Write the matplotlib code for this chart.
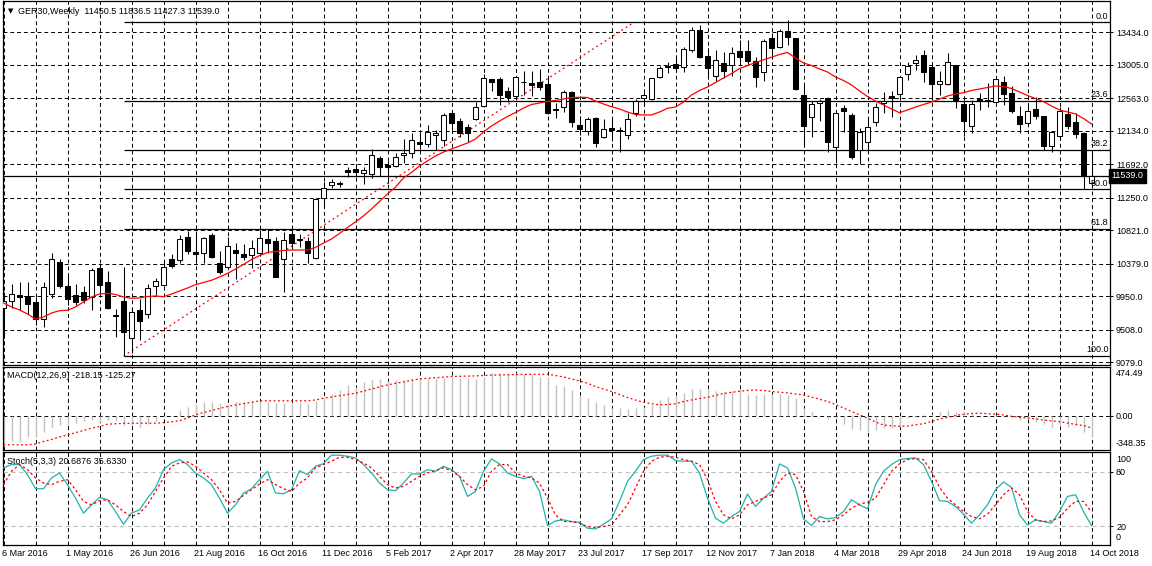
#!/usr/bin/env python3
"""GER30 weekly candlestick chart with MA, Fibonacci retracement, MACD and Stochastic panels."""

import matplotlib
matplotlib.use("Agg")
import matplotlib.pyplot as plt
import matplotlib.transforms as mtransforms
import numpy as np

W, H, DPI = 1152, 566, 100

# ---------------------------------------------------------------------------
# Data (weekly bars, 6 Mar 2016 .. 14 Oct 2018)
# ---------------------------------------------------------------------------
opens = [
    9795, 9888, 9963, 9950, 9871, 9646, 9977, 10403, 10086, 9968,
    10007, 9945, 10324, 10139, 9703, 9888, 9404, 9769, 9712, 10082,
    10103, 10439, 10426, 10729, 10531, 10518, 10759, 10386, 10333, 10561,
    10504, 10495, 10518, 10706, 10676, 10439, 10768, 10706, 10680, 10451,
    11243, 11415, 11449, 11617, 11630, 11573, 11560, 11771, 11683, 11666,
    11808, 11837, 11990, 11957, 12075, 12019, 12369, 12263, 12180, 12290,
    12465, 12814, 12818, 12655, 12597, 12774, 12769, 12778, 12752, 12418,
    12442, 12646, 12211, 12135, 12299, 12048, 12167, 12138, 12079, 12365,
    12563, 12554, 12848, 12993, 13012, 12980, 13197, 13464, 13121, 12857,
    13025, 13002, 13187, 13187, 13055, 12914, 13355, 13244, 13451, 13363,
    12607, 12312, 12497, 12563, 11924, 12431, 12343, 11881, 11982, 12254,
    12497, 12591, 12616, 12884, 13025, 13134, 12972, 12748, 12749, 12996,
    12485, 12193, 12554, 12529, 12510, 12782, 12629, 12329, 12241, 12422,
    12329, 11938, 12069, 12352, 12254, 12109, 11450.5,
]
highs = [
    10007, 10109, 10143, 10143, 9945, 10143, 10522, 10439, 10222, 10116,
    10086, 10320, 10372, 10284, 9778, 10341, 9800, 9915, 10108, 10196,
    10429, 10509, 10759, 10812, 10816, 10737, 10781, 10548, 10737, 10650,
    10640, 10693, 10825, 10834, 10737, 10803, 10825, 10768, 10737, 11243,
    11455, 11494, 11476, 11652, 11692, 11652, 11890, 11806, 11736, 11837,
    12022, 12105, 12105, 12211, 12145, 12373, 12409, 12299, 12224, 12518,
    12884, 12818, 12848, 12712, 12857, 12923, 12926, 12947, 12827, 12501,
    12673, 12659, 12329, 12312, 12312, 12290, 12290, 12188, 12365, 12560,
    12640, 12835, 12993, 13046, 13104, 13244, 13500, 13530, 13223, 13200,
    13178, 13236, 13332, 13332, 13112, 13346, 13421, 13478, 13596, 13363,
    12739, 12527, 12550, 12584, 12409, 12475, 12365, 12167, 12320, 12497,
    12640, 12653, 12857, 13046, 13134, 13200, 13046, 12923, 13161, 12996,
    12537, 12541, 12637, 12761, 12814, 12857, 12725, 12461, 12475, 12576,
    12329, 12132, 12452, 12444, 12365, 12122, 11836.5,
]
lows = [
    9400, 9800, 9769, 9712, 9571, 9549, 9931, 10056, 9836, 9836,
    9858, 9769, 9958, 9778, 9417, 9162, 9198, 9373, 9660, 9968,
    10086, 10320, 10386, 10504, 10386, 10386, 10456, 10244, 10320, 10174,
    10429, 10328, 10504, 10526, 10201, 10011, 10605, 10597, 10393, 10442,
    11111, 11375, 11397, 11520, 11520, 11428, 11507, 11538, 11441, 11660,
    11709, 11769, 11894, 11920, 11881, 11927, 12145, 12048, 11990, 12270,
    12448, 12659, 12478, 12518, 12541, 12607, 12591, 12673, 12356, 12299,
    12386, 12178, 12079, 12079, 11924, 12039, 12000, 11858, 12022, 12332,
    12461, 12541, 12835, 12893, 12914, 12906, 13178, 13099, 12827, 12795,
    12835, 12857, 13046, 13002, 12716, 12791, 13078, 13223, 13266, 12673,
    11947, 12056, 12266, 11858, 11713, 12122, 11758, 11700, 11854, 12201,
    12373, 12312, 12541, 12805, 12937, 12782, 12541, 12600, 12739, 12431,
    12062, 12109, 12413, 12452, 12497, 12475, 12365, 12101, 12224, 12290,
    11881, 11848, 12056, 12154, 12035, 11362, 11427.3,
]
closes = [
    9888, 9977, 9937, 9852, 9650, 10068, 10439, 10086, 9918, 9879,
    9905, 10297, 10099, 9800, 9694, 9483, 9739, 9628, 10056, 10152,
    10337, 10354, 10706, 10552, 10512, 10715, 10473, 10275, 10614, 10517,
    10473, 10583, 10715, 10649, 10209, 10693, 10657, 10693, 10526, 11230,
    11383, 11458, 11428, 11594, 11594, 11617, 11815, 11653, 11660, 11784,
    11841, 12013, 11956, 12118, 12101, 12340, 12241, 12109, 12101, 12444,
    12827, 12782, 12611, 12584, 12840, 12778, 12739, 12716, 12365, 12405,
    12640, 12246, 12158, 12290, 11977, 12154, 12151, 12134, 12286, 12527,
    12603, 12827, 12959, 12972, 12967, 13214, 13464, 13112, 12967, 13068,
    12927, 13157, 13112, 13059, 12848, 13323, 13223, 13451, 13376, 12686,
    12202, 12484, 12531, 11990, 12365, 12399, 11785, 12114, 12180, 12452,
    12531, 12563, 12840, 12989, 13068, 12914, 12748, 12791, 13038, 12530,
    12267, 12485, 12527, 12534, 12814, 12620, 12399, 12220, 12395, 12334,
    11938, 12114, 12395, 12201, 12088, 11551, 11539.0,
]
ma_values = [
    9862, 9809, 9769, 9716, 9650, 9677, 9729, 9760, 9765, 9809,
    9875, 9941, 9980, 9990, 9974, 9941, 9924, 9928, 9947, 9954,
    9945, 9980, 10020, 10059, 10103, 10132, 10161, 10205, 10251, 10310,
    10370, 10436, 10486, 10528, 10541, 10554, 10561, 10561, 10561, 10594,
    10653, 10706, 10779, 10858, 10931, 11010, 11102, 11201, 11300, 11392,
    11511, 11584, 11670, 11736, 11802, 11854, 11894, 11933, 11973, 12026,
    12118, 12198, 12263, 12323, 12376, 12435, 12481, 12501, 12521, 12534,
    12554, 12574, 12576, 12574, 12527, 12488, 12452, 12422, 12382, 12349,
    12343, 12343, 12382, 12431, 12448, 12514, 12607, 12666, 12712, 12772,
    12831, 12890, 12956, 12996, 13035, 13071, 13105, 13141, 13168, 13095,
    13029, 12996, 12950, 12910, 12844, 12798, 12739, 12659, 12587, 12527,
    12475, 12422, 12373, 12409, 12448, 12481, 12514, 12554, 12593, 12620,
    12637, 12666, 12686, 12706, 12725, 12719, 12692, 12646, 12600, 12560,
    12518, 12461, 12409, 12382, 12356, 12296, 12224,
]
macd_hist = [
    -293, -253, -260, -210, -210, -160, -110, -93, -93, -77,
    -53, -43, -60, -43, -53, -93, -93, -110, -87, -53,
    -10, -2, 57, 90, 113, 133, 133, 123, 113, 133,
    133, 147, 147, 140, 123, 123, 130, 140, 113, 147,
    173, 213, 256, 306, 290, 340, 356, 366, 346, 356,
    360, 366, 373, 373, 380, 373, 380, 373, 380, 366,
    390, 423, 423, 423, 423, 413, 413, 390, 390, 306,
    300, 260, 206, 180, 140, 107, 80, 73, 67, 80,
    90, 107, 157, 183, 206, 230, 266, 266, 266, 246,
    240, 246, 266, 213, 206, 213, 213, 213, 206, 173,
    80, 40, 0, -33, -20, -87, -133, -143, -160, -143,
    -127, -120, -110, -20, -10, 7, 13, 33, 57, 40,
    33, 13, 0, -10, 7, -10, -20, -43, -33, -60,
    -87, -110, -100, -110, -93, -160, -218.15,
]
macd_signal = [
    -293, -293, -293, -293, -285, -260, -240, -215, -193, -170,
    -150, -128, -110, -87, -82, -78, -77, -77, -77, -77,
    -72, -63, -53, -25, 7, 30, 50, 70, 90, 105,
    118, 132, 147, 147, 147, 147, 147, 147, 147, 155,
    173, 185, 198, 210, 223, 243, 265, 285, 306, 322,
    336, 352, 366, 372, 378, 384, 390, 392, 394, 396,
    400, 404, 406, 408, 410, 411, 412, 413, 413, 400,
    385, 365, 345, 323, 290, 265, 240, 210, 180, 155,
    133, 118, 107, 110, 118, 140, 155, 170, 183, 200,
    220, 232, 243, 250, 256, 250, 240, 233, 226, 215,
    206, 185, 163, 140, 110, 75, 40, 7, -27, -65,
    -95, -103, -108, -105, -93, -82, -60, -35, -20, 0,
    12, 20, 23, 18, 13, 5, -8, -18, -25, -35,
    -45, -53, -62, -75, -90, -100, -125.27,
]
stoch_main = [
    84.4, 88.1, 88.1, 77.0, 61.4, 61.4, 73.3, 78.8, 65.9, 51.0,
    34.4, 43.6, 51.8, 49.2, 36.2, 22.2, 34.4, 38.1, 51.0, 62.2,
    82.5, 89.9, 93.6, 88.1, 78.8, 73.3, 65.9, 51.0, 34.4, 43.6,
    56.6, 61.4, 71.4, 80.7, 56.6, 55.9, 60.3, 81.4, 77.0, 86.2,
    89.2, 98.5, 98.5, 97.3, 95.5, 88.1, 78.8, 67.7, 60.3, 59.2,
    67.7, 77.7, 77.7, 82.5, 80.7, 86.2, 82.5, 75.1, 52.9, 58.5,
    80.7, 94.4, 88.8, 78.8, 75.1, 72.5, 75.1, 58.5, 20.7, 25.9,
    27.0, 25.1, 24.4, 17.7, 17.0, 22.2, 28.1, 47.4, 69.6, 80.7,
    93.6, 97.3, 98.5, 98.5, 92.5, 91.8, 91.8, 78.8, 51.0, 28.8,
    23.3, 30.7, 36.2, 55.5, 41.8, 51.0, 58.5, 88.8, 84.4, 62.2,
    28.1, 20.7, 30.7, 28.1, 29.6, 36.2, 49.2, 43.6, 39.2, 65.9,
    80.7, 88.1, 93.6, 94.8, 95.5, 88.1, 69.6, 48.1, 47.4, 41.8,
    33.3, 23.3, 32.5, 43.6, 60.3, 68.8, 62.9, 32.5, 21.4, 27.0,
    25.1, 23.3, 36.2, 52.9, 54.8, 36.2, 20.6876,
]
stoch_signal = [
    65.9, 80.7, 88.1, 82.5, 73.3, 67.7, 65.9, 69.6, 71.4, 60.3,
    47.4, 43.6, 48.1, 49.2, 43.6, 36.2, 30.7, 34.4, 43.6, 58.5,
    73.3, 86.2, 89.9, 91.1, 86.2, 78.8, 71.4, 60.3, 45.5, 47.4,
    54.0, 60.3, 66.6, 71.4, 65.9, 61.4, 58.5, 67.7, 73.3, 84.4,
    88.1, 91.8, 96.2, 96.2, 93.6, 89.9, 84.4, 75.1, 65.9, 62.2,
    64.0, 69.6, 75.1, 78.8, 81.4, 84.4, 81.4, 75.1, 65.9, 60.3,
    64.0, 80.7, 88.1, 88.1, 78.8, 75.1, 73.3, 67.7, 51.0, 32.5,
    25.1, 25.1, 23.3, 19.6, 18.5, 19.6, 21.4, 32.5, 43.6, 62.2,
    80.7, 91.8, 96.2, 97.3, 96.2, 93.6, 91.8, 88.1, 71.4, 47.4,
    32.5, 28.1, 32.5, 43.6, 47.4, 51.0, 54.8, 69.6, 78.8, 77.0,
    58.5, 30.7, 25.1, 25.1, 27.0, 32.5, 39.9, 44.4, 46.6, 51.0,
    65.9, 80.7, 88.8, 93.6, 94.8, 93.6, 80.7, 62.9, 51.0, 43.6,
    36.2, 30.7, 28.1, 33.3, 43.6, 54.8, 62.2, 54.8, 36.2, 27.0,
    25.1, 25.9, 29.6, 39.9, 47.4, 47.4, 35.6330,
]
date_labels = [
    "6 Mar 2016", "1 May 2016", "26 Jun 2016", "21 Aug 2016", "16 Oct 2016",
    "11 Dec 2016", "5 Feb 2017", "2 Apr 2017", "28 May 2017", "23 Jul 2017",
    "17 Sep 2017", "12 Nov 2017", "7 Jan 2018", "4 Mar 2018", "29 Apr 2018",
    "24 Jun 2018", "19 Aug 2018", "14 Oct 2018",
]
price_ticks = [13434.0, 13005.0, 12563.0, 12134.0, 11692.0, 11250.0,
               10821.0, 10379.0, 9950.0, 9508.0, 9079.0]
fib_levels = [0.0, 23.6, 38.2, 50.0, 61.8, 100.0]
fib_anchor_bars = [15, 78.8]
fib_anchor_prices = [9160.0, 13566.0]
bid_price = 11539.0
symbol_title = "GER30,Weekly  11450.5 11836.5 11427.3 11539.0"
macd_title = "MACD(12,26,9) -218.15 -125.27"
stoch_title = "Stoch(5,3,3) 20.6876 35.6330"
macd_range = [474.49, -348.35]

# ---------------------------------------------------------------------------
# Layout (pixel based, like the terminal screenshot)
# ---------------------------------------------------------------------------
plt.rcParams["font.family"] = ["Liberation Sans", "DejaVu Sans"]
plt.rcParams["font.size"] = 6.5

X_LEFT, X_RIGHT = 3, 1110
BAR0_PX, BAR_PX = 3.5, 8.0
XMIN = (X_LEFT - BAR0_PX) / BAR_PX
XMAX = (X_RIGHT - BAR0_PX) / BAR_PX

GRID = dict(color="black", linewidth=0.7, linestyle=(0, (4, 3)))
RED = "#FF0000"

fig = plt.figure(figsize=(W / DPI, H / DPI), dpi=DPI, facecolor="white")


def px_axes(left, top, right, bottom):
    return fig.add_axes([left / W, 1 - bottom / H, (right - left) / W, (bottom - top) / H])


def px_text(xpx, ypx, s, **kw):
    kw.setdefault("va", "center")
    return fig.text(xpx / W, 1 - ypx / H, s, **kw)


def style_panel(ax):
    ax.set_xlim(XMIN, XMAX)
    ax.set_facecolor("white")
    for sp in ax.spines.values():
        sp.set_color("black")
        sp.set_linewidth(0.9)
    ax.set_xticks(np.arange(0, len(closes), 4))
    ax.grid(axis="x", **GRID)
    ax.set_axisbelow(True)
    ax.yaxis.tick_right()
    ax.tick_params(axis="x", length=0, labelbottom=False)
    ax.tick_params(axis="y", length=2.2, width=0.7, pad=2.2, labelsize=6.5)


x = np.arange(len(closes))
o = np.array(opens, dtype=float)
c = np.array(closes, dtype=float)

# ---- main price panel -----------------------------------------------------
ax = px_axes(X_LEFT, 1, X_RIGHT, 365)
style_panel(ax)
ax.set_ylim(9043, 13847)
ax.set_yticks(price_ticks)
ax.set_yticklabels([f"{p:.1f}" for p in price_ticks])
ax.grid(axis="y", **GRID)

# fibonacci retracement
lo_bar, hi_bar = fib_anchor_bars
lo_p, hi_p = fib_anchor_prices
trans_fib = mtransforms.blended_transform_factory(ax.transAxes, ax.transData)
for lvl in fib_levels:
    p = hi_p - (hi_p - lo_p) * lvl / 100.0
    ax.hlines(p, lo_bar, XMAX, color="black", linewidth=0.9, zorder=2)
    ax.annotate(f"{lvl:.1f}", xy=(0.9985, p), xycoords=trans_fib,
                xytext=(0, 1.2), textcoords="offset points",
                ha="right", va="bottom", fontsize=6.5, zorder=6)
ax.plot([lo_bar, hi_bar], [lo_p, hi_p], color=RED, linewidth=0.9,
        linestyle=(0, (1.5, 2.5)), zorder=2)

# bid line + price box
ax.axhline(bid_price, color="black", linewidth=0.9, zorder=2)
ax.text(1.0 + 1.5 / (X_RIGHT - X_LEFT), bid_price, f"{bid_price:.1f}",
        transform=trans_fib, ha="left", va="center", color="white", fontsize=6.5,
        bbox=dict(boxstyle="square,pad=0.25", facecolor="black", edgecolor="black"),
        clip_on=False, zorder=7)

# candles
up = c >= o
ax.vlines(x, lows, highs, color="black", linewidth=0.75, zorder=3)
ax.bar(x, c - o, bottom=o, width=0.55, color=np.where(up, "white", "black"),
       edgecolor="black", linewidth=0.75, zorder=4)

# moving average
ax.plot(x, ma_values, color=RED, linewidth=0.9, zorder=5)

px_text(8, 11, "\u25BC", fontsize=5, family="DejaVu Sans")
px_text(18, 11, symbol_title, fontsize=6.5)

# ---- MACD panel -----------------------------------------------------------
ax2 = px_axes(X_LEFT, 367, X_RIGHT, 450)
style_panel(ax2)
ax2.set_ylim(-345, 485)
ax2.vlines(x, 0, macd_hist, color="#C0C0C0", linewidth=1.0, zorder=2)
ax2.plot(x, macd_signal, color=RED, linewidth=0.9, linestyle=(0, (1.5, 2)), zorder=3)
ax2.axhline(0, zorder=1, **GRID)
ax2.set_yticks([0])
ax2.set_yticklabels(["0.00"])
px_text(7, 376, macd_title)
px_text(1116, 374, f"{macd_range[0]:.2f}")
px_text(1116, 443, f"{macd_range[1]:.2f}")

# ---- Stochastic panel -----------------------------------------------------
ax3 = px_axes(X_LEFT, 452, X_RIGHT, 545)
style_panel(ax3)
ax3.set_ylim(-0.8, 102)
for lvl in (20, 80):
    ax3.axhline(lvl, color="#C0C0C0", linewidth=0.8, linestyle=(0, (4, 3)), zorder=1)
ax3.plot(x, stoch_main, color="#20B2AA", linewidth=0.9, zorder=3)
ax3.plot(x, stoch_signal, color=RED, linewidth=0.9, linestyle=(0, (2, 2)), zorder=3)
ax3.set_yticks([20, 80])
ax3.set_yticklabels(["20", "80"])
px_text(7, 461, stoch_title)
px_text(1116, 459, "100")
px_text(1116, 538, "0")

# date labels, left aligned on every second grid line
for k, lbl in enumerate(date_labels):
    bar = 8 * k
    px_text(BAR0_PX + BAR_PX * bar - 1, 553, lbl, ha="left")

fig.savefig("out.png", dpi=DPI, facecolor="white")
